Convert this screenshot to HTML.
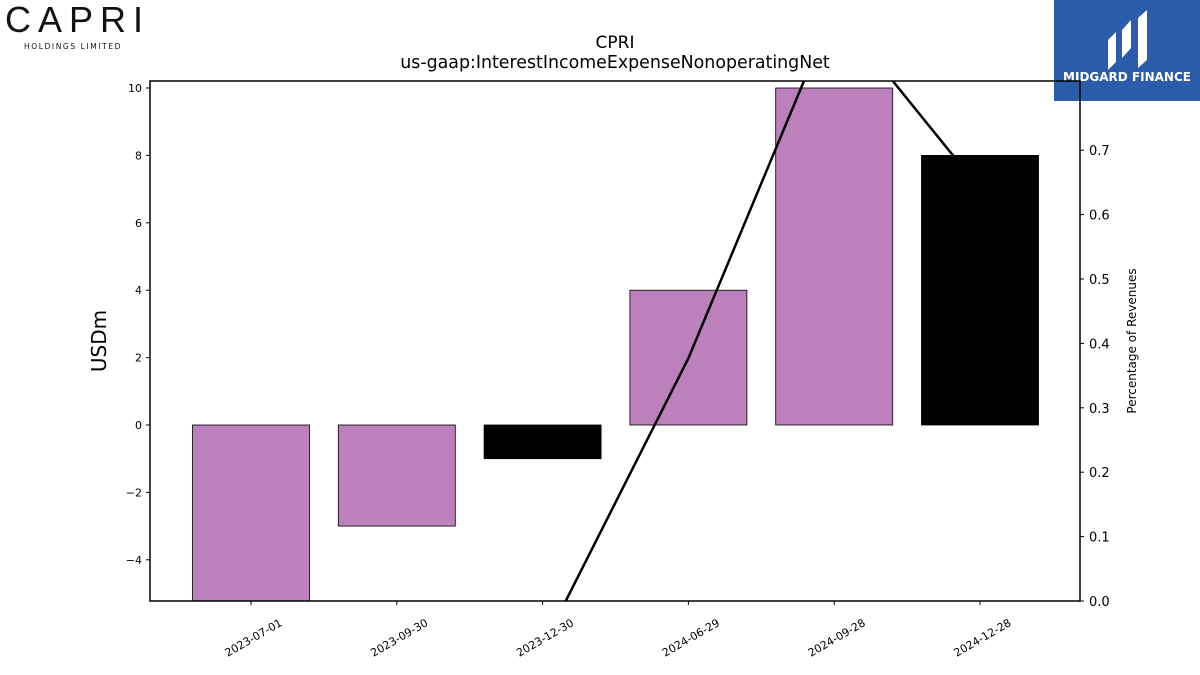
<!DOCTYPE html>
<html><head><meta charset="utf-8"><style>
html,body{margin:0;padding:0;background:#fff;overflow:hidden;width:1200px;height:675px;font-family:"Liberation Sans","DejaVu Sans",sans-serif;}
svg{display:block;}
svg text{font-family:"DejaVu Sans","Liberation Sans",sans-serif;}
</style></head><body>
<svg width="1200" height="675" xmlns="http://www.w3.org/2000/svg">
<g>
<text x="5" y="32" font-size="36" letter-spacing="7" fill="#111" style="font-family:'Liberation Sans',sans-serif">CAPRI</text>
<text x="24" y="49" font-size="7.5" letter-spacing="1.6" fill="#111">HOLDINGS LIMITED</text>
</g>
<g>
<rect x="1054" y="0" width="146" height="101" fill="#2b5bab"/>
<path d="M1108 70 L1108 40 L1116 32 L1116 62 Z M1122 58 L1122 30 L1131 20 L1131 48 Z M1138 68 L1138 18 L1147 10 L1147 60 Z" fill="#fff"/>
<text x="1127" y="81" font-size="12" font-weight="bold" fill="#fff" text-anchor="middle">MIDGARD FINANCE</text>
</g>
<text x="615" y="48" font-size="17" text-anchor="middle">CPRI</text>
<text x="615" y="68" font-size="17.4" text-anchor="middle">us-gaap:InterestIncomeExpenseNonoperatingNet</text>
<g id="plot"></g>
<text transform="translate(106,341) rotate(-90)" font-size="20" text-anchor="middle">USDm</text>
<text transform="translate(1136,341) rotate(-90)" font-size="12" text-anchor="middle">Percentage of Revenues</text>
</svg>
<script>
const categories=["2023-07-01","2023-09-30","2023-12-30","2024-06-29","2024-09-28","2024-12-28"];
const barValues=[-6,-3,-1,4,10,8];
const barColors=["#bc80bd","#bc80bd","#000","#bc80bd","#bc80bd","#000"];
const pctValues=[-0.3,-0.2,-0.071,0.377,0.92,0.64];
const leftTicks=[-4,-2,0,2,4,6,8,10];
const rightTicks=[0,0.1,0.2,0.3,0.4,0.5,0.6,0.7];
const NS="http://www.w3.org/2000/svg";
const L=150,R=1080,T=81,B=601;
const yL=v=>425-v*33.7;
const yR=v=>601-v*644;
const xC=i=>251+i*145.8;
const g=document.getElementById('plot');
function mk(t,a){const e=document.createElementNS(NS,t);for(const k in a)e.setAttribute(k,a[k]);return e;}
const defs=mk('defs',{});const cp=mk('clipPath',{id:'clip'});cp.appendChild(mk('rect',{x:L,y:T,width:R-L,height:B-T}));defs.appendChild(cp);g.appendChild(defs);
const cg=mk('g',{'clip-path':'url(#clip)'});g.appendChild(cg);
barValues.forEach((v,i)=>{const y0=yL(0),y1=yL(v);
const r=mk('rect',{x:xC(i)-58.5,y:Math.min(y0,y1),width:117,height:Math.abs(y1-y0),fill:barColors[i],stroke:'#000','stroke-width':0.8});


cg.appendChild(r);});
const pl=mk('polyline',{points:pctValues.map((v,i)=>xC(i)+','+yR(v)).join(' '),fill:'none',stroke:'#000','stroke-width':2.5});


cg.appendChild(pl);
const fr=mk('rect',{x:L,y:T,width:R-L,height:B-T,fill:'none',stroke:'#000','stroke-width':1.5});


g.appendChild(fr);
leftTicks.forEach(v=>{const y=yL(v);g.appendChild(mk('line',{x1:L-4,x2:L,y1:y,y2:y,stroke:'#000'}));
const t=mk('text',{x:L-8,y:y+4,'font-size':11,'text-anchor':'end'});t.textContent=v<0?'\u2212'+(-v):v;


g.appendChild(t);});
rightTicks.forEach(v=>{const y=yR(v);g.appendChild(mk('line',{x1:R,x2:R+4,y1:y,y2:y,stroke:'#000'}));
const t=mk('text',{x:R+9,y:y+5,'font-size':13});t.textContent=v.toFixed(1);


g.appendChild(t);});
categories.forEach((c,i)=>{const x=xC(i);g.appendChild(mk('line',{x1:x,x2:x,y1:B,y2:B+4,stroke:'#000'}));
const t=mk('text',{transform:`translate(${x+32},${B+24}) rotate(-30)`,'font-size':11,'text-anchor':'end'});t.textContent=c;


g.appendChild(t);});
</script>
</body></html>
